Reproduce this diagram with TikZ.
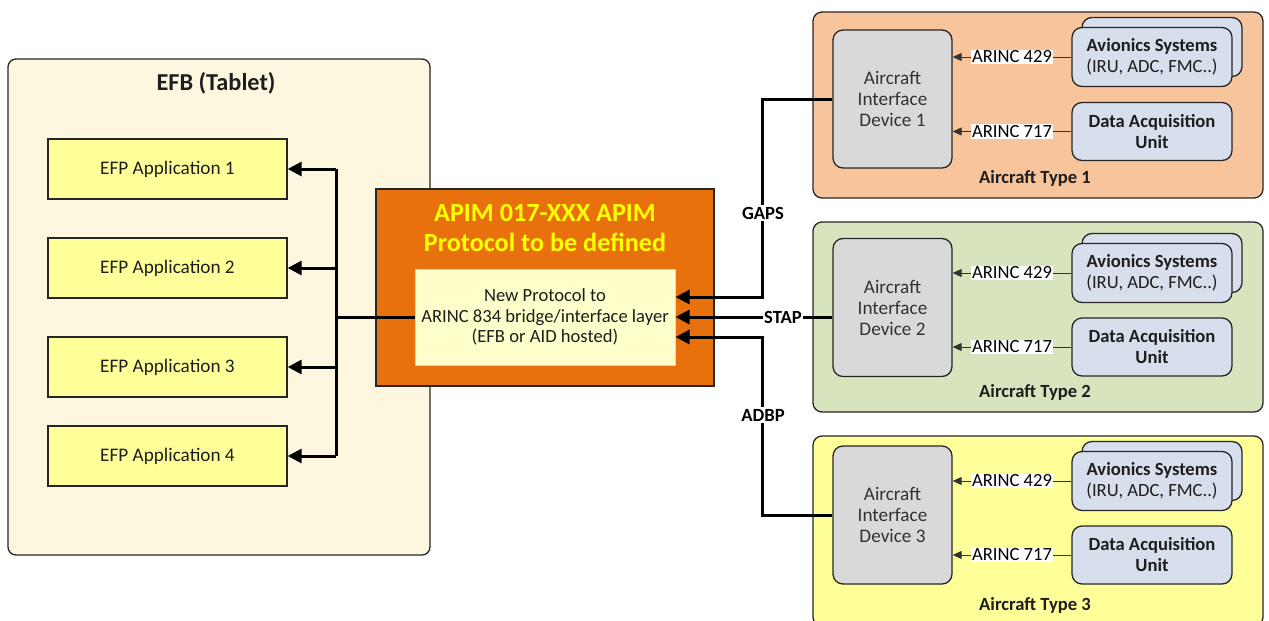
\documentclass[tikz,border=0pt]{standalone}
\usepackage{fontspec}
\setmainfont{Carlito}
\usetikzlibrary{arrows.meta,calc}
\definecolor{efbfill}{RGB}{252,247,222}
\definecolor{appfill}{RGB}{255,255,153}
\definecolor{apimfill}{RGB}{232,113,14}
\definecolor{innerfill}{RGB}{255,255,204}
\definecolor{innerdraw}{RGB}{248,203,173}
\definecolor{t1fill}{RGB}{248,196,156}
\definecolor{t2fill}{RGB}{216,228,190}
\definecolor{t3fill}{RGB}{255,255,153}
\definecolor{aidfill}{RGB}{217,217,217}
\definecolor{avfill}{RGB}{214,223,235}
\definecolor{txt}{RGB}{30,30,30}
\definecolor{titleyellow}{RGB}{255,255,0}
\tikzset{
  box/.style={draw=black!85, line width=1.3pt, inner sep=0pt, align=center, text=txt},
  appbox/.style={box, fill=appfill, minimum width=239, minimum height=60, font=\fontsize{19.2}{22}\selectfont},
  typebox/.style={box, rounded corners=9pt, minimum width=450},
  aidbox/.style={box, fill=aidfill, rounded corners=10pt, minimum width=119, minimum height=138, font=\fontsize{19.2}{21}\selectfont, text=black!80},
  avbox/.style={box, fill=avfill, rounded corners=10pt, minimum width=160, minimum height=59, font=\fontsize{18.6}{21}\selectfont},
  conn/.style={line width=3pt, draw=black},
  connarrow/.style={conn, -{Triangle[length=14pt,width=14pt]}},
  thinarrow/.style={line width=0.9pt, draw=black!80, -{Triangle[length=9pt,width=8pt]}},
  arinc/.style={fill=white, inner sep=1pt, font=\fontsize{18.6}{20}\selectfont, text=black},
  plabel/.style={fill=white, inner sep=1.5pt, font=\bfseries\fontsize{18.6}{20}\selectfont, text=black},
}
\begin{document}
\begin{tikzpicture}[x=1pt,y=-1pt]
\clip (0,0) rectangle (1269,621);
\fill[white] (0,0) rectangle (1269,621);

% EFB
\node[box, fill=efbfill, rounded corners=8pt, minimum width=422, minimum height=496] (efb) at (219,307) {};
\node[font=\bfseries\fontsize{24.3}{28}\selectfont, text=txt] (efbt) at (216,83) {EFB (Tablet)};
\node[appbox] (app1) at (167.5,169) {EFP Application 1};
\node[appbox] (app2) at (167.5,268) {EFP Application 2};
\node[appbox] (app3) at (167.5,367) {EFP Application 3};
\node[appbox] (app4) at (167.5,456) {EFP Application 4};
\coordinate (busx) at (336,0);

% APIM
\node[box, fill=apimfill, minimum width=338, minimum height=197] (apim) at (545,287.5) {};
\node[font=\bfseries\fontsize{26.2}{30}\selectfont, text=titleyellow, align=center] (apimt) at (545,228) {APIM 017-XXX APIM\\Protocol to be defined};
\node[draw=innerdraw, line width=1pt, fill=innerfill, minimum width=260, minimum height=96, inner sep=0pt, align=center, text=txt, font=\fontsize{18.6}{20.5}\selectfont] (inner) at (545,317) {New Protocol to\\ARINC 834 bridge/interface layer\\(EFB or AID hosted)};

% bus
\draw[conn] (inner.west) -- (inner.west -| busx);
\draw[conn] (app1.east -| busx) -- (app4.east -| busx);
\foreach \k in {1,2,3,4}{
  \draw[connarrow] (app\k.east -| busx) -- (app\k.east);
}

% aircraft types
\foreach \i/\by/\bh/\fc/\ay/\vy/\dy/\ly in {1/105/186/t1fill/99/57/131.5/178, 2/317/190/t2fill/307.5/273/347/392, 3/531/190/t3fill/515/481/555/605}{
  \node[typebox, fill=\fc, minimum height=\bh] (type\i) at (1038,\by) {};
  \node[aidbox] (aid\i) at (892.5,\ay) {Aircraft\\Interface\\Device \i};
  \node[avbox] (avb\i) at (1162,\vy-10) {};
  \node[avbox] (av\i) at (1152,\vy) {\textbf{Avionics Systems}\\(IRU, ADC, FMC..)};
  \node[avbox, minimum height=58] (dau\i) at (1152,\dy) {\textbf{Data Acquisition}\\\textbf{Unit}};
  \node[font=\bfseries\fontsize{18.6}{20}\selectfont, text=txt] (tl\i) at (1035,\ly) {Aircraft Type \i};
  \draw[thinarrow] (av\i.west) -- node[arinc, pos=0.5] {ARINC 429} (av\i.west -| aid\i.east);
  \draw[thinarrow] (dau\i.west) -- node[arinc, pos=0.5] {ARINC 717} (dau\i.west -| aid\i.east);
}

% protocol connectors
\coordinate (gapsin) at ($(inner.east)+(0,-20)$);
\coordinate (stapin) at (inner.east);
\coordinate (adbpin) at ($(inner.east)+(0,20)$);
\draw[connarrow] (aid1.west) -- ++(-70,0) |- (gapsin);
\draw[connarrow] (stapin -| aid2.west) -- (stapin);
\draw[connarrow] (aid3.west) -- ++(-70,0) |- (adbpin);
\node[plabel] (gaps) at (763,213) {GAPS};
\node[plabel] (stap) at (783,317) {STAP};
\node[plabel] (adbp) at (763,415) {ADBP};
\end{tikzpicture}
\end{document}
